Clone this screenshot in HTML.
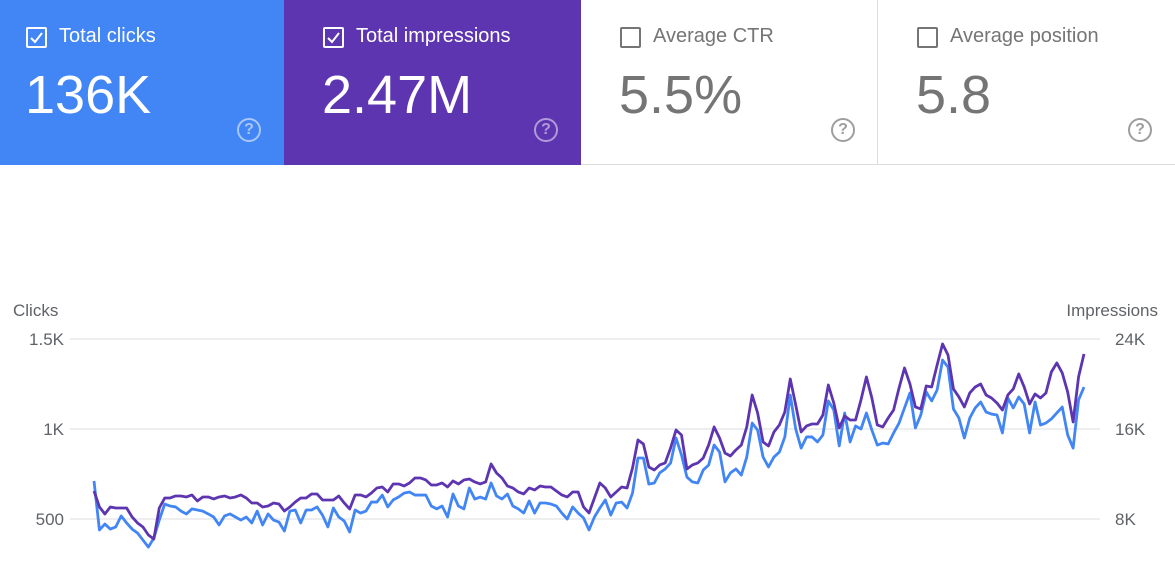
<!DOCTYPE html>
<html><head><meta charset="utf-8"><style>
body{margin:0;width:1175px;height:587px;background:#fff;font-family:"Liberation Sans",sans-serif;overflow:hidden;position:relative}
.card{position:absolute;top:0;height:165px;box-sizing:border-box}
.lbl{position:absolute;left:59px;top:25px;font-size:20px;white-space:nowrap}
.cb{position:absolute;left:26px;top:27px;width:17px;height:17px;border:2px solid;border-radius:2px}
.num{position:absolute;left:25px;top:64px;font-size:54px;font-weight:300;white-space:nowrap}
.help{position:absolute;left:237px;top:118px;width:20px;height:20px;border:2px solid;border-radius:50%;font-size:16px;font-weight:bold;text-align:center;line-height:20px}
</style></head><body>
<div class="card" style="left:0;width:284px;background:#4285f4;color:#fff">
 <div class="cb" style="border-color:#fff"><svg width="17" height="17" viewBox="0 0 17 17"><path d="M3 9 L7 13 L14 4" fill="none" stroke="#fff" stroke-width="2"/></svg></div>
 <div class="lbl">Total clicks</div>
 <div class="num">136K</div>
 <div class="help" style="border-color:#a9c6fa;color:#a9c6fa">?</div>
</div>
<div class="card" style="left:284px;width:297px;background:#5e35b1;color:#fff">
 <div class="cb" style="left:39px;border-color:#fff"><svg width="17" height="17" viewBox="0 0 17 17"><path d="M3 9 L7 13 L14 4" fill="none" stroke="#fff" stroke-width="2"/></svg></div>
 <div class="lbl" style="left:72px">Total impressions</div>
 <div class="num" style="left:38px">2.47M</div>
 <div class="help" style="left:250px;border-color:#b09ad8;color:#b09ad8">?</div>
</div>
<div class="card" style="left:581px;width:297px;border-bottom:1px solid #dadce0;border-right:1px solid #dadce0;color:#757575">
 <div class="cb" style="left:39px;border-color:#757575"></div>
 <div class="lbl" style="left:72px">Average CTR</div>
 <div class="num" style="left:38px">5.5%</div>
 <div class="help" style="left:250px;border-color:#9e9e9e;color:#9e9e9e">?</div>
</div>
<div class="card" style="left:878px;width:297px;border-bottom:1px solid #dadce0;color:#757575">
 <div class="cb" style="left:39px;border-color:#757575"></div>
 <div class="lbl" style="left:72px">Average position</div>
 <div class="num" style="left:38px">5.8</div>
 <div class="help" style="left:250px;border-color:#9e9e9e;color:#9e9e9e">?</div>
</div>
<svg id="chart" width="1175" height="587" style="position:absolute;left:0;top:0" font-family="Liberation Sans, sans-serif"></svg>
<script>
const clicks=[711,439,472,444,456,517,478,444,422,383,344,394,494,583,572,567,544,528,556,550,544,528,511,467,517,528,511,494,511,478,544,467,528,494,483,433,544,550,478,550,550,567,522,456,561,511,489,428,550,533,544,594,594,633,567,606,622,644,650,633,
633,633,572,556,572,511,639,572,556,672,611,622,611,700,628,611,639,572,556,533,600,533,589,589,583,572,533,500,567,533,506,439,511,561,606,522,589,594,561,644,839,839,694,700,756,778,811,950,856,733,706,700,772,800,911,872,706,756,778,744,
844,1033,994,844,789,844,872,956,1189,1000,894,956,956,928,967,1156,1106,906,1089,928,1017,1000,1089,994,911,922,917,978,1033,1117,1200,1006,1078,1206,1156,1217,1383,1344,1111,1061,950,1061,1117,1150,1094,1083,1078,978,1172,1117,1178,1139,978,1150,1022,1033,1056,1089,1122,967,894,1161,1233];
const impressions=[10490,9068,8446,9068,8979,8979,8979,8179,7645,7290,6579,6223,8979,9868,9868,10046,10046,9957,10135,9601,9957,9957,9779,9957,10046,9868,9957,10135,9868,9423,9423,9068,9157,9423,9334,8712,9068,9512,9868,9868,10224,10224,9690,9690,9690,10046,9423,8890,10135,10135,9957,10312,10757,10846,10401,11113,11113,10935,11201,11646,
11646,11468,11024,11024,11201,10846,11379,11113,11468,11557,11290,11113,11290,12890,12090,11646,10935,10757,10401,10224,10757,10579,10935,10846,10846,10490,10135,9957,10401,10401,9068,8534,9868,11201,10757,9957,10401,10846,10757,12535,15024,14668,12624,12357,12802,12979,14313,15913,15469,12446,12802,12979,13424,14580,16180,15202,13868,13602,14135,14580,
16180,19025,17424,14846,14491,15735,16358,17513,20447,18136,15735,16269,16447,16447,17247,19914,18313,16091,17158,16802,16802,18580,20625,18758,16358,16180,16980,17691,19647,21425,20003,17958,17780,19825,19736,21692,23559,22581,19558,18847,17958,19202,19736,20003,19025,18758,18313,17691,19025,19558,20892,19736,18225,19114,18758,19202,21069,21869,20980,19291,16624,20625,22670];
const leftTicks=[500,1000,1500];
const leftTickLabels=["500","1K","1.5K"];
const rightTicks=[8000,16000,24000];
const rightTickLabels=["8K","16K","24K"];
const NS="http://www.w3.org/2000/svg";
const svg=document.getElementById('chart');
const x0=94,x1=1084,yZero=609,yTop=339;
function xs(i,n){return x0+(x1-x0)*i/(n-1);}
function yl(v){return yZero-(yZero-yTop)*v/1500;}
function yr(v){return yZero-(yZero-yTop)*v/24000;}
function mk(t,a){const e=document.createElementNS(NS,t);for(const k in a)e.setAttribute(k,a[k]);svg.appendChild(e);return e;}
leftTicks.forEach((v,i)=>{
 const g=mk('line',{x1:70,x2:1100,y1:yl(v),y2:yl(v),stroke:'#e8e8e8','stroke-width':1.5});
 
 
 const t=mk('text',{x:64,y:yl(v)+6,'text-anchor':'end','font-size':17,fill:'#5f6368'});
 t.textContent=leftTickLabels[i];
 
 
});
rightTicks.forEach((v,i)=>{
 const t=mk('text',{x:1115,y:yr(v)+6,'font-size':17,fill:'#5f6368'});
 t.textContent=rightTickLabels[i];
 
 
});
const lt=mk('text',{x:13,y:316,'font-size':17,fill:'#5f6368'});lt.textContent='Clicks';


const rt=mk('text',{x:1158,y:316,'text-anchor':'end','font-size':17,fill:'#5f6368'});rt.textContent='Impressions';


const pb=mk('polyline',{points:clicks.map((v,i)=>xs(i,clicks.length)+','+yl(v)).join(' '),fill:'none',stroke:'#4285f4','stroke-width':2.8,'stroke-linejoin':'round'});


const pp=mk('polyline',{points:impressions.map((v,i)=>xs(i,impressions.length)+','+yr(v)).join(' '),fill:'none',stroke:'#5e35b1','stroke-width':2.8,'stroke-linejoin':'round'});


</script>
</body></html>
